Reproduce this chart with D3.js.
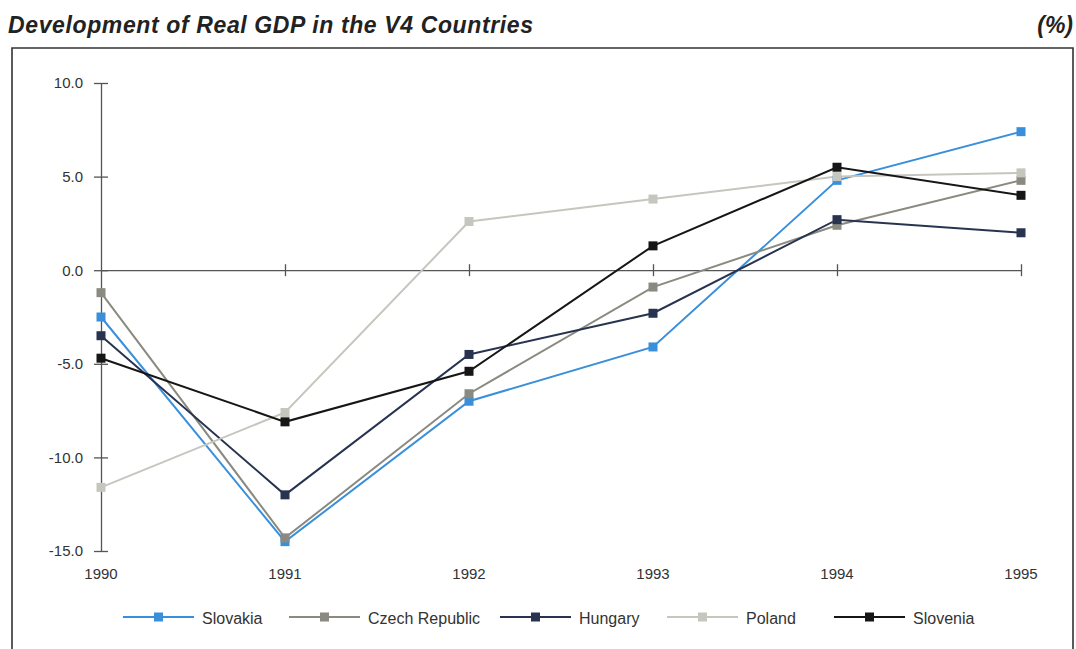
<!DOCTYPE html>
<html>
<head>
<meta charset="utf-8">
<script src="https://cdn.jsdelivr.net/npm/d3@7"></script>
<style>
  html, body { margin: 0; padding: 0; background: #fff; }
  svg { display: block; }
  text { font-family: "Liberation Sans", Arial, sans-serif; }
</style>
</head>
<body>
<svg id="chart" width="1076" height="649"></svg>
<script>
// Years on the horizontal axis
const years = [1990, 1991, 1992, 1993, 1994, 1995];

// Real GDP growth, % per year
const slovakia = [-2.5, -14.5, -7.0, -4.1, 4.8, 7.4];
const czechRepublic = [-1.2, -14.3, -6.6, -0.9, 2.4, 4.8];
const hungary = [-3.5, -12.0, -4.5, -2.3, 2.7, 2.0];
const poland = [-11.6, -7.6, 2.6, 3.8, 5.0, 5.2];
const slovenia = [-4.7, -8.1, -5.4, 1.3, 5.5, 4.0];

const seriesNames = ["Slovakia", "Czech Republic", "Hungary", "Poland", "Slovenia"];
const seriesColors = ["#3a8fdb", "#8a8a80", "#283350", "#c6c6be", "#161616"];
const yTicks = [10, 5, 0, -5, -10, -15];

const series = [slovakia, czechRepublic, hungary, poland, slovenia].map((values, i) => ({
  name: seriesNames[i],
  color: seriesColors[i],
  points: values.map((v, j) => ({ year: years[j], value: v }))
}));

const svg = d3.select("#chart");

// Title and unit
svg.append("text")
  .attr("x", 8).attr("y", 33)
  .attr("font-size", 23).attr("font-weight", "bold").attr("font-style", "italic")
  .attr("fill", "#222")
  .attr("textLength", 525).attr("lengthAdjust", "spacing")
  .text("Development of Real GDP in the V4 Countries");
svg.append("text")
  .attr("x", 1073).attr("y", 33).attr("text-anchor", "end")
  .attr("font-size", 23).attr("font-weight", "bold").attr("font-style", "italic")
  .attr("fill", "#222")
  .text("(%)");

// Frame (open at the bottom)
svg.append("path")
  .attr("d", "M12,649 L12,48 L1073,48 L1073,649")
  .attr("fill", "none").attr("stroke", "#333").attr("stroke-width", 1.6);

const x = d3.scaleLinear().domain([1990, 1995]).range([101, 1021]);
const y = d3.scaleLinear().domain([-15, 10]).range([551, 83]);

const axisColor = "#555";
// One decimal, with a plain hyphen for negatives
const fmt = d => d3.format(".1f")(d).replace("\u2212", "-");

// Vertical axis with crossing ticks
const yAxis = svg.append("g").attr("transform", `translate(${x(1990)},0)`)
  .call(d3.axisLeft(y).tickValues(yTicks).tickFormat(fmt).tickSize(0).tickPadding(18));
yAxis.attr("font-size", null).attr("font-family", null);
yAxis.select(".domain").attr("stroke", axisColor).attr("stroke-width", 1.3);
yAxis.selectAll(".tick line").attr("x1", -7).attr("x2", 7).attr("stroke", axisColor).attr("stroke-width", 1.3);
yAxis.selectAll(".tick text")
  .style("font-size", "15px").attr("fill", "#333");

// Horizontal axis at zero with crossing ticks
const xAxis = svg.append("g").attr("transform", `translate(0,${y(0)})`)
  .call(d3.axisBottom(x).tickValues(years.slice(1)).tickFormat("").tickSize(0));
xAxis.select(".domain").attr("stroke", axisColor).attr("stroke-width", 1.3);
xAxis.selectAll(".tick line").attr("y1", -6).attr("y2", 6).attr("stroke", axisColor).attr("stroke-width", 1.3);

// Year labels below the plot
svg.append("g").selectAll("text").data(years).join("text")
  .attr("x", d => x(d)).attr("y", 579)
  .attr("text-anchor", "middle").style("font-size", "15px").attr("fill", "#333")
  .text(d => d);

// Lines and markers
const line = d3.line().x(d => x(d.year)).y(d => y(d.value));
const plot = svg.append("g");
series.forEach(s => {
  plot.append("path").datum(s.points)
    .attr("d", line).attr("fill", "none")
    .attr("stroke", s.color).attr("stroke-width", 2);
});
series.forEach(s => {
  plot.selectAll(null).data(s.points).join("rect")
    .attr("x", d => x(d.year) - 4.5).attr("y", d => y(d.value) - 4.5)
    .attr("width", 9).attr("height", 9)
    .attr("fill", s.color);
});

// Legend
const legendX = [123, 289, 500, 667, 834];
const legend = svg.append("g");
series.forEach((s, i) => {
  const g = legend.append("g").attr("transform", `translate(${legendX[i]},617)`);
  g.append("line").attr("x1", 0).attr("x2", 71).attr("y1", 0).attr("y2", 0)
    .attr("stroke", s.color).attr("stroke-width", 2);
  g.append("rect").attr("x", 31).attr("y", -4.5).attr("width", 9).attr("height", 9).attr("fill", s.color);
  g.append("text").attr("x", 79).attr("y", 7).style("font-size", "16px").attr("fill", "#333").text(s.name);
});
</script>
</body>
</html>
